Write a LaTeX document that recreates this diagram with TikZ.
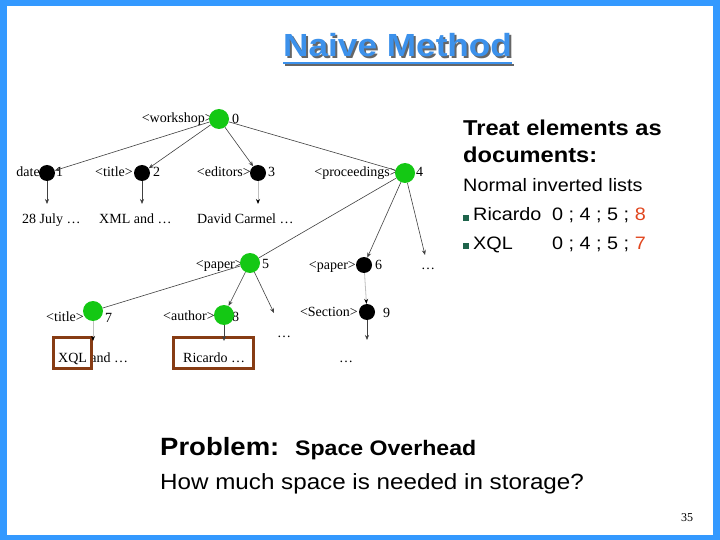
\documentclass[tikz,border=0pt]{standalone}
\usepackage{fontspec}
\setmainfont{Liberation Serif}
\newfontfamily\sw[FakeStretch=1.1]{Liberation Sans}
\usetikzlibrary{arrows.meta,calc}
\definecolor{frameblue}{RGB}{51,153,255}
\definecolor{titleblue}{RGB}{60,145,235}
\definecolor{nodegreen}{RGB}{20,200,20}
\definecolor{boxbrown}{RGB}{135,60,20}
\definecolor{bulletgreen}{RGB}{30,100,75}
\definecolor{numred}{RGB}{225,70,30}
\begin{document}
\begin{tikzpicture}[x=1pt,y=-1pt,
  gnode/.style={circle,fill=nodegreen,minimum size=20pt,inner sep=0pt},
  bnode/.style={circle,fill=black,minimum size=16pt,inner sep=0pt},
  lbl/.style={font=\fontsize{14}{14}\selectfont,inner sep=0pt},
  lblE/.style={lbl,anchor=base east},
  lblW/.style={lbl,anchor=base west},
  edgeline/.style={draw=black!75,line width=0.6pt},
  arr/.style={edgeline,-{Stealth[length=5pt,width=4pt]}},
  garr/.style={draw=black!25,line width=0.8pt,-{Stealth[length=5pt,width=4pt,color=black]}},
  hbox/.style={draw=boxbrown,line width=3pt},
  sw/.style={inner sep=0pt,anchor=base west},
  titlefont/.style={font=\sw\bfseries\fontsize{32}{32}\selectfont},
  bullet/.style={fill=bulletgreen}
]
\useasboundingbox (0,0) rectangle (720,540);
% frame
\fill[frameblue] (0,0) rectangle (720,540);
\fill[white] (7,6) rectangle (713,535);

% title (with shadow)
\node[sw,titlefont] (title) at (283,57)
  {\rlap{\hspace{2pt}\raisebox{-2pt}{\textcolor{black!60}{Naive Method}}}\textcolor{titleblue}{Naive Method}};
\draw[black!60,line width=2pt] ($(title.base west)+(2,8)$) -- ($(title.base east)+(2,8)$);
\draw[titleblue,line width=2pt] ($(title.base west)+(0,6)$) -- ($(title.base east)+(0,6)$);

% tree labels
\node[lblE] (l0) at (213,123) {<workshop>};
\node[lblW] (k0) at (232,124) {0};
\node[lblE] (l1) at (40,177) {date};
\node[lblW] (k1) at (56,177) {1};
\node[lblE] (l2) at (133,177) {<title>};
\node[lblW] (k2) at (153,177) {2};
\node[lblE] (l3) at (251,177) {<editors>};
\node[lblW] (k3) at (268,177) {3};
\node[lblE] (l4) at (398,177) {<proceedings>};
\node[lblW] (k4) at (416,177) {4};
\node[lblW] (t1) at (22,223) {28 July …};
\node[lblW] (t2) at (99,223) {XML and …};
\node[lblW] (t3) at (197,223) {David Carmel …};

\node[lblE] (l5) at (243,268) {<paper>};
\node[lblW] (k5) at (262,268) {5};
\node[lblE] (l6) at (356,269) {<paper>};
\node[lblW] (k6) at (375,269) {6};
\node[lblW] (d4) at (421,269) {…};

\node[lblE] (l7) at (84,321) {<title>};
\node[lblW] (k7) at (105,322) {7};
\node[lblE] (l8) at (215,320) {<author>};
\node[lblW] (k8) at (232,321) {8};
\node[lblW] (d5) at (277,337) {…};
\node[lblE] (l9) at (358,316) {<Section>};
\node[lblW] (k9) at (383,317) {9};
\node[lblW] (t7) at (58,362) {XQL and …};
\node[lblW] (t8) at (183,362) {Ricardo …};
\node[lblW] (t9) at (339,362) {…};

% highlight boxes
\draw[hbox] (53,337) rectangle (91,368);
\draw[hbox] (173,337) rectangle (253,368);

% tree nodes
\node[gnode] (n0) at (219,119) {};
\node[bnode] (n1) at (47,173) {};
\node[bnode] (n2) at (142,173) {};
\node[bnode] (n3) at (258,173) {};
\node[gnode] (n4) at (405,173) {};
\node[gnode] (n5) at (250,263) {};
\node[bnode] (n6) at (364,265) {};
\node[gnode] (n7) at (93,311) {};
\node[gnode] (n8) at (224,315) {};
\node[bnode] (n9) at (367,312) {};

% free arrow ends
\coordinate (e1) at (47,204);
\coordinate (e2) at (142,204);
\coordinate (e3) at (258,204);
\coordinate (e4) at (425,255);
\coordinate (e5) at (274,313);
\coordinate (e7) at (93,341);
\coordinate (e8) at (224,341);
\coordinate (e9) at (367,340);

% connectors
\draw[arr] (n0) -- (n1);
\draw[arr] (n0) -- (n2);
\draw[arr] (n0) -- (n3);
\draw[edgeline] (n0) -- (n4);
\draw[arr] (n1) -- (e1);
\draw[arr] (n2) -- (e2);
\draw[garr] (n3) -- (e3);
\draw[edgeline] (n4) -- (n5);
\draw[arr] (n4) -- (n6);
\draw[arr] (n4) -- (e4);
\draw[edgeline] (n5) -- (n7);
\draw[arr] (n5) -- (n8);
\draw[arr] (n5) -- (e5);
\draw[garr] (n6) -- (n9);
\draw[garr] (n7) -- (e7);
\draw[arr] (n8) -- (e8);
\draw[arr] (n9) -- (e9);

% right text
\node[sw,font=\sw\bfseries\fontsize{21.5}{22}\selectfont] (r1) at (463,136) {Treat elements as};
\node[sw,font=\sw\bfseries\fontsize{21.5}{22}\selectfont] (r2) at (463,163) {documents:};
\node[sw,font=\sw\fontsize{18}{18}\selectfont] (r3) at (463,192) {Normal inverted lists};
\fill[bullet] (463,215) rectangle (469,221);
\node[sw,font=\sw\fontsize{18}{18}\selectfont] (r4) at (473,221) {Ricardo};
\node[sw,font=\sw\fontsize{18}{18}\selectfont] (r4n) at (552,221) {0 ; 4 ; 5 ; \textcolor{numred}{8}};
\fill[bullet] (463,243) rectangle (469,249);
\node[sw,font=\sw\fontsize{18}{18}\selectfont] (r5) at (473,249) {XQL};
\node[sw,font=\sw\fontsize{18}{18}\selectfont] (r5n) at (552,249) {0 ; 4 ; 5 ; \textcolor{numred}{7}};

% bottom text
\node[sw,font=\sw\bfseries\fontsize{25}{25}\selectfont] (p1) at (160,455) {Problem:};
\node[sw,font=\sw\bfseries\fontsize{21}{21}\selectfont] (p2) at (295,455) {Space Overhead};
\node[sw,font=\sw\fontsize{22}{22}\selectfont] (p3) at (160,489) {How much space is needed in storage?};
\node[sw,font=\fontsize{12}{12}\selectfont] (pg) at (681,521) {35};
\end{tikzpicture}
\end{document}
